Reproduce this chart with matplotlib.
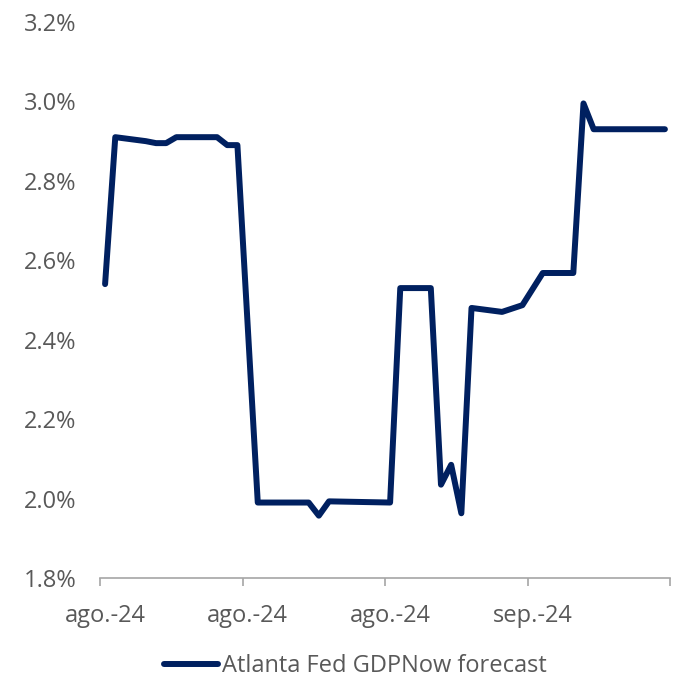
import numpy as np
import matplotlib
matplotlib.use('Agg')
import matplotlib.pyplot as plt

# data (day index from start, GDPNow forecast in %)
days = [0, 1, 4, 5, 6, 7, 11, 12, 13, 15, 20, 21, 22, 28, 29, 32, 33, 34,
        35, 36, 39, 41, 43, 46, 47, 48, 55]
gdpnow = [2.54, 2.91, 2.90, 2.895, 2.895, 2.91, 2.91, 2.89, 2.89, 1.99, 1.99,
          1.957, 1.993, 1.99, 2.53, 2.53, 2.035, 2.085, 1.963, 2.48, 2.47,
          2.487, 2.568, 2.568, 2.995, 2.93, 2.93]

n_days = 56
label_days = [0, 14, 28, 42]
label_text = ['ago.-24', 'ago.-24', 'ago.-24', 'sep.-24']
y_ticks = [1.8, 2.0, 2.2, 2.4, 2.6, 2.8, 3.0, 3.2]

plt.rcParams['font.family'] = ['Open Sans', 'DejaVu Sans']
grey = '#595959'
fs = 17

fig = plt.figure(figsize=(6.8, 6.79), dpi=100)
ax = fig.add_axes([100/680, 1 - 578/679, 570/680, 556/679])

ax.plot(days, gdpnow, color='#002060', lw=4.3,
        solid_capstyle='round', solid_joinstyle='round',
        label='Atlanta Fed GDPNow forecast')

ax.set_xlim(-0.5, n_days - 0.5)
ax.set_ylim(1.8, 3.2)

ax.set_yticks(y_ticks)
ax.set_yticklabels(['%.1f%%' % v for v in y_ticks])
ax.tick_params(axis='y', length=0, pad=17, labelsize=fs, labelcolor=grey)

ax.set_xticks(np.arange(-0.5, n_days, 14))
ax.set_xticklabels([])
ax.set_xticks(label_days, minor=True)
ax.set_xticklabels(label_text, minor=True)
ax.tick_params(axis='x', which='major', length=6, width=1.2, color='#a6a6a6')
ax.tick_params(axis='x', which='minor', length=0, pad=19, labelsize=fs,
               labelcolor=grey)

for s in ['top', 'right', 'left']:
    ax.spines[s].set_visible(False)
ax.spines['bottom'].set_color('#a6a6a6')
ax.spines['bottom'].set_linewidth(1.2)

leg = fig.legend(loc='center', bbox_to_anchor=(355/680, 1 - 666/679),
                 frameon=False, fontsize=fs, handlelength=2.3,
                 handletextpad=0.15)
for t in leg.get_texts():
    t.set_color(grey)

fig.savefig('out.png', dpi=100)
